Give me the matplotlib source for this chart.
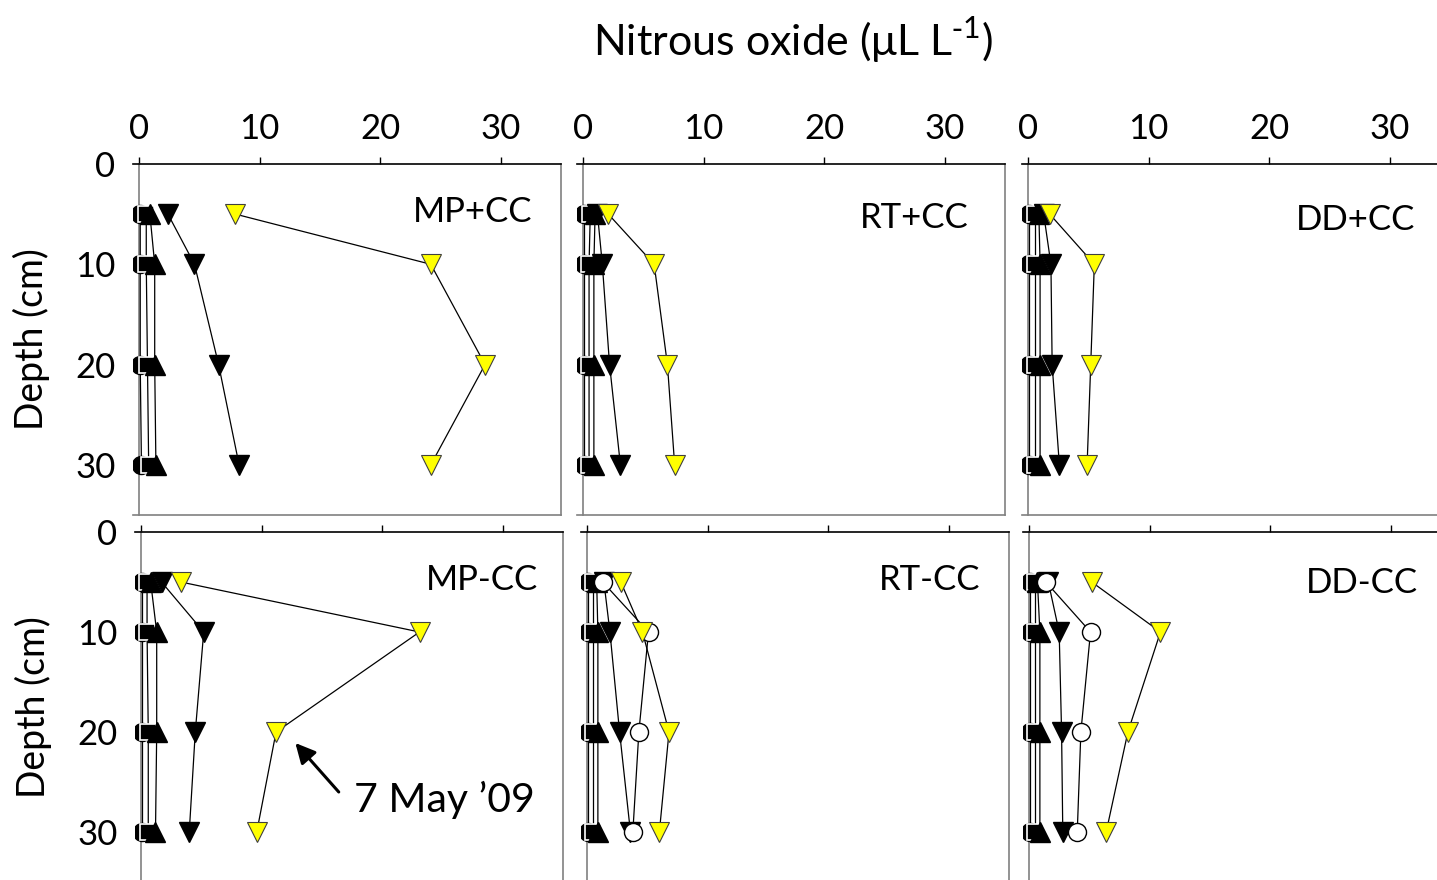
import matplotlib
matplotlib.use("Agg")
import matplotlib.pyplot as plt

plt.rcParams['font.family'] = ['Lato', 'DejaVu Sans']

depths = [5, 10, 20, 30]
panel_names = ["MP+CC", "RT+CC", "DD+CC", "MP-CC", "RT-CC", "DD-CC"]

# N2O concentrations (uL/L) per sampling date, one list per panel
black_circle = {
    "MP+CC": [0.1, 0.1, 0.1, 0.2], "RT+CC": [0.1, 0.1, 0.1, 0.1], "DD+CC": [0.1, 0.1, 0.1, 0.1],
    "MP-CC": [0.1, 0.1, 0.1, 0.1], "RT-CC": [0.1, 0.1, 0.1, 0.1], "DD-CC": [0.1, 0.1, 0.1, 0.1],
}
black_square = {
    "MP+CC": [0.6, 0.6, 0.7, 0.8], "RT+CC": [0.6, 0.5, 0.5, 0.5], "DD+CC": [0.6, 0.6, 0.6, 0.6],
    "MP-CC": [0.5, 0.5, 0.6, 0.6], "RT-CC": [0.5, 0.5, 0.5, 0.5], "DD-CC": [0.5, 0.5, 0.5, 0.5],
}
black_up = {
    "MP+CC": [0.9, 1.3, 1.3, 1.4], "RT+CC": [1.0, 0.9, 0.9, 0.9], "DD+CC": [0.9, 1.0, 1.0, 1.0],
    "MP-CC": [0.8, 1.3, 1.3, 1.2], "RT-CC": [0.8, 0.9, 0.9, 0.9], "DD-CC": [0.7, 0.9, 0.9, 0.9],
}
black_down = {
    "MP+CC": [2.4, 4.6, 6.6, 8.3], "RT+CC": [1.2, 1.6, 2.2, 3.1], "DD+CC": [1.3, 1.9, 2.0, 2.6],
    "MP-CC": [1.7, 5.2, 4.5, 4.0], "RT-CC": [1.4, 1.9, 2.7, 3.6], "DD-CC": [1.6, 2.5, 2.7, 2.8],
}
white_circle = {
    "RT-CC": [1.3, 5.1, 4.3, 3.8], "DD-CC": [1.4, 5.1, 4.3, 4.0],
}
yellow_down = {
    "MP+CC": [8.0, 24.2, 28.7, 24.2], "RT+CC": [2.1, 5.9, 7.0, 7.6], "DD+CC": [1.8, 5.5, 5.2, 4.9],
    "MP-CC": [3.3, 23.1, 11.2, 9.6], "RT-CC": [2.8, 4.6, 6.8, 6.0], "DD-CC": [5.2, 10.9, 8.2, 6.4],
}

x_ticks = [0, 10, 20, 30]
y_ticks = [0, 10, 20, 30]

W, H = 1437, 880
fig = plt.figure(figsize=(W / 100, H / 100), dpi=100)

# panel frames in pixels: (left, right, top, bottom)
frames = [
    (133, 561, 164, 515), (577, 1005, 164, 515), (1022, 1450, 164, 515),
    (135, 563, 532, 882), (581, 1009, 532, 882), (1023, 1451, 532, 882),
]

grey = "#808080"
FS = 25

axes = []
for i, (name, (l, r, t, b)) in enumerate(zip(panel_names, frames)):
    ax = fig.add_axes([l / W, (H - b) / H, (r - l) / W, (b - t) / H])
    axes.append(ax)
    ax.set_xlim(-0.5, 35)
    ax.set_ylim(35, 0)
    ax.xaxis.set_ticks_position("top")
    ax.set_xticks(x_ticks)
    ax.set_yticks(y_ticks)
    ax.spines["left"].set_position(("data", 0))
    ax.spines["left"].set_color(grey)
    ax.spines["right"].set_color(grey)
    ax.spines["bottom"].set_color(grey)
    ax.spines["top"].set_color("black")
    for s in ax.spines.values():
        s.set_linewidth(1.2)
    ax.tick_params(axis="x", direction="out", length=5, width=1, pad=9,
                   labelsize=FS, labeltop=(i < 3), labelbottom=False)
    ax.tick_params(axis="y", length=0, pad=17, labelsize=FS, labelleft=(i % 3 == 0))
    ax.patch.set_alpha(0)

    lw = 0.9
    ax.plot(black_circle[name], depths, "-", color="black", lw=lw, marker="o",
            ms=13, mfc="black", mec="black", zorder=3)
    ax.plot(black_square[name], depths, "-", color="black", lw=lw, marker="s",
            ms=12, mfc="black", mec="white", mew=1.2, zorder=3)
    ax.plot(black_up[name], depths, "-", color="black", lw=lw, marker="^",
            ms=15, mfc="black", mec="black", zorder=3)
    ax.plot(black_down[name], depths, "-", color="black", lw=lw, marker="v",
            ms=15, mfc="black", mec="black", zorder=3)
    if name in white_circle:
        ax.plot(white_circle[name], depths, "-", color="black", lw=lw, marker="o",
                ms=13, mfc="white", mec="black", mew=1, zorder=4)
    ax.plot(yellow_down[name], depths, "-", color="black", lw=lw, marker="v",
            ms=15, mfc="#FFFF00", mec="#404040", mew=0.8, zorder=5)

    if i % 3 == 0:
        ax.set_ylabel("Depth (cm)", fontsize=27, labelpad=18)

# treatment labels
label_pos = [(532, 212), (969, 218), (1415, 220), (538, 580), (980, 580), (1418, 583)]
for name, (px, py) in zip(panel_names, label_pos):
    fig.text(px / W, 1 - py / H, name, fontsize=FS, ha="right", va="center")

fig.text(793 / W, 1 - 40 / H, "Nitrous oxide (\u03bcL L$^{\\mathregular{\\text{-}1}}$)",
         fontsize=31, ha="center", va="center")

# date annotation in the MP-CC panel
ax = axes[3]
ax.annotate("", xy=(12.8, 21.1), xytext=(16.4, 26.0),
            arrowprops=dict(arrowstyle="-|>", color="black", lw=2.2,
                            mutation_scale=30, shrinkA=0, shrinkB=0))
ax.text(17.7, 26.8, "7 May \u201909", fontsize=29.5, ha="left", va="center")

fig.savefig("out.png", dpi=100)
